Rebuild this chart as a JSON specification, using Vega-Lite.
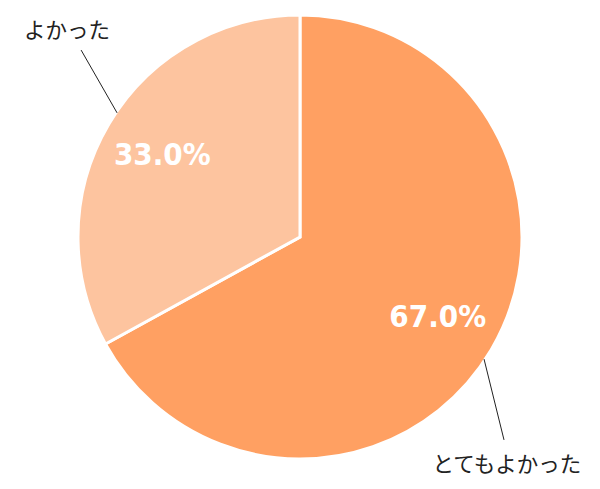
{
  "$schema": "https://vega.github.io/schema/vega-lite/v6.json",
  "width": 600,
  "height": 474,
  "padding": {"top": 0, "left": 0, "right": 0, "bottom": 15},
  "autosize": {"type": "none"},
  "background": "white",
  "config": {"view": {"stroke": null}},
  "datasets": {
    "pie": [
      {"category": "とてもよかった", "value": 67.0, "rank": 1},
      {"category": "よかった", "value": 33.0, "rank": 2}
    ],
    "callouts": [
      {"category": "よかった", "lx": -1.050, "ly": 0.923, "x1": -0.986, "y1": 0.842, "x2": -0.824, "y2": 0.559},
      {"category": "とてもよかった", "lx": 0.932, "ly": -1.032, "x1": 0.829, "y1": -0.550, "x2": 0.919, "y2": -0.914}
    ]
  },
  "layer": [
    {
      "data": {"name": "pie"},
      "mark": {"type": "arc", "outerRadius": 222, "stroke": "white", "strokeWidth": 3},
      "encoding": {
        "theta": {"field": "value", "type": "quantitative", "stack": true},
        "order": {"field": "rank", "type": "quantitative"},
        "color": {
          "field": "category", "type": "nominal", "legend": null,
          "scale": {"domain": ["とてもよかった", "よかった"], "range": ["#FFA062", "#FDC49F"]}
        }
      }
    },
    {
      "data": {"name": "pie"},
      "transform": [{"calculate": "format(datum.value, '.1f') + '%'", "as": "pct"}],
      "mark": {"type": "text", "radius": 160, "color": "white", "font": "DejaVu Sans Condensed", "fontSize": 31, "fontWeight": "bold"},
      "encoding": {
        "theta": {"field": "value", "type": "quantitative", "stack": true},
        "order": {"field": "rank", "type": "quantitative"},
        "text": {"field": "pct"}
      }
    },
    {
      "data": {"name": "callouts"},
      "mark": {"type": "rule", "color": "#222222", "strokeWidth": 1},
      "encoding": {
        "x": {"field": "x1", "type": "quantitative", "scale": {"domain": [-1.3514, 1.3514]}, "axis": null},
        "y": {"field": "y1", "type": "quantitative", "scale": {"domain": [-1.0676, 1.0676]}, "axis": null},
        "x2": {"field": "x2"},
        "y2": {"field": "y2"}
      }
    },
    {
      "data": {"name": "callouts"},
      "mark": {"type": "text", "font": "Noto Sans CJK JP", "fontSize": 21.5, "color": "#222222", "align": "center", "baseline": "middle"},
      "encoding": {
        "x": {"field": "lx", "type": "quantitative", "scale": {"domain": [-1.3514, 1.3514]}, "axis": null},
        "y": {"field": "ly", "type": "quantitative", "scale": {"domain": [-1.0676, 1.0676]}, "axis": null},
        "text": {"field": "category"}
      }
    }
  ],
  "resolve": {"scale": {"theta": "independent"}}
}
